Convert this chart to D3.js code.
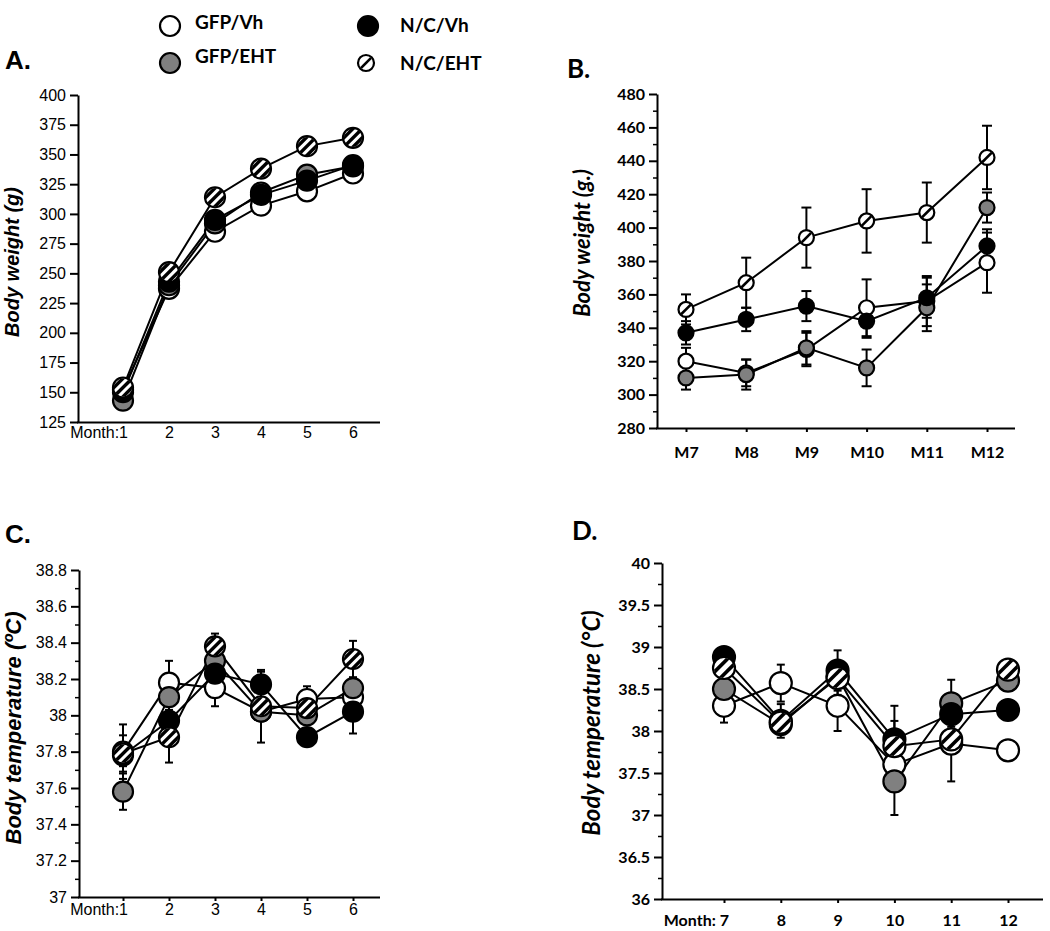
<!DOCTYPE html>
<html>
<head>
<meta charset="utf-8">
<script src="https://cdn.jsdelivr.net/npm/d3@7"></script>
<style>
body { margin: 0; background: #fff; }
</style>
</head>
<body>
<svg id="svg" width="1050" height="931"></svg>
<script>
var svg = d3.select("#svg"),
    defs = svg.append("defs");

var groups = ["GFP/Vh", "GFP/EHT", "N/C/Vh", "N/C/EHT"],
    fills  = ["#fff", "#808080", "#000", "hatch"];

// A. body weight, months 1-6
var monthsA = [1, 2, 3, 4, 5, 6];
var bwA_gfpVh  = [152, 237, 285, 307, 319, 334],
    bwA_gfpEht = [143, 240, 292, 318, 333, 340],
    bwA_ncVh   = [150, 243, 295, 316, 328, 341],
    bwA_ncEht  = [154, 251, 314, 338, 357, 364];
var ticksA = [125, 150, 175, 200, 225, 250, 275, 300, 325, 350, 375, 400];

// B. body weight, months 7-12
var monthsB = ["M7", "M8", "M9", "M10", "M11", "M12"];
var bwB_gfpVh  = [320, 313, 327, 352, 356, 379],
    bwB_gfpEht = [310, 312, 328, 316, 352, 412],
    bwB_ncVh   = [337, 345, 353, 344, 358, 389],
    bwB_ncEht  = [351, 367, 394, 404, 409, 442];
var seB_gfpVh  = [8, 8, 10, 17, 15, 18],
    seB_gfpEht = [7, 9, 10, 11, 14, 9],
    seB_ncVh   = [7, 7, 9, 10, 12, 10],
    seB_ncEht  = [9, 15, 18, 19, 18, 19];
var ticksB = [280, 300, 320, 340, 360, 380, 400, 420, 440, 460, 480];

// C. body temperature, months 1-6
var monthsC = [1, 2, 3, 4, 5, 6];
var btC_gfpVh  = [37.80, 38.18, 38.15, 38.02, 38.09, 38.10],
    btC_gfpEht = [37.58, 38.10, 38.30, 38.02, 38.00, 38.15],
    btC_ncVh   = [37.78, 37.97, 38.23, 38.17, 37.88, 38.02],
    btC_ncEht  = [37.79, 37.88, 38.38, 38.05, 38.04, 38.31];
var seC_gfpVh  = [0.15, 0.12, 0.10, 0.05, 0.07, 0.05],
    seC_gfpEht = [0.10, 0.07, 0.05, 0.05, 0.05, 0.03],
    seC_ncVh   = [0.06, 0.08, 0.06, 0.07, 0.04, 0.12],
    seC_ncEht  = [0.10, 0.14, 0.07, 0.20, 0.08, 0.10];
var ticksC = [37, 37.2, 37.4, 37.6, 37.8, 38, 38.2, 38.4, 38.6, 38.8];

// D. body temperature, months 7-12
var monthsD = [7, 8, 9, 10, 11, 12];
var btD_gfpVh  = [38.30, 38.57, 38.30, 37.60, 37.85, 37.77],
    btD_gfpEht = [38.50, 38.08, 38.65, 37.40, 38.33, 38.60],
    btD_ncVh   = [38.88, 38.12, 38.72, 37.90, 38.20, 38.25],
    btD_ncEht  = [38.75, 38.10, 38.63, 37.82, 37.90, 38.73];
var seD_gfpVh  = [0.20, 0.22, 0.30, 0.15, 0.45, 0.05],
    seD_gfpEht = [0.10, 0.10, 0.10, 0.40, 0.28, 0.05],
    seD_ncVh   = [0.10, 0.20, 0.24, 0.40, 0.20, 0.05],
    seD_ncEht  = [0.10, 0.10, 0.20, 0.30, 0.10, 0.05];
var ticksD = [36, 36.5, 37, 37.5, 38, 38.5, 39, 39.5, 40];

var ARIAL = '"Liberation Sans", Arial, sans-serif',
    CALI  = 'Lato, "Open Sans", sans-serif';

var panels = [
  {id:"A", font:ARIAL, bold:false, months:monthsA, xr:[123,353], ax:78, xEnd:380,
   yd:[125,400], yr:[422,95], ticks:ticksA, minor:null, xTick:0, xLabY:16, first:"Month:",
   series:[bwA_gfpVh, bwA_gfpEht, bwA_ncVh, bwA_ncEht], se:null,
   r:10, hatch:{offs:[-6.5,0,6.5], w:3.4}, cap:4,
   title:"Body weight (g)", tx:19, ty:262, ts:20, lab:[5,69]},
  {id:"B", font:CALI, bold:true, months:monthsB, xr:[686,987], ax:657, xEnd:1015,
   yd:[280,480], yr:[428,94], ticks:ticksB, minor:d3.range(290,480,20), xTick:4, xLabY:30, first:null,
   series:[bwB_gfpVh, bwB_gfpEht, bwB_ncVh, bwB_ncEht], se:[seB_gfpVh, seB_gfpEht, seB_ncVh, seB_ncEht],
   r:7.5, hatch:{offs:[0], w:2.6}, cap:5,
   title:"Body weight (g.)", tx:590, ty:243, ts:22, lab:[567,78]},
  {id:"C", font:ARIAL, bold:false, months:monthsC, xr:[123,353], ax:79, xEnd:380,
   yd:[37,38.8], yr:[897,570], ticks:ticksC, minor:d3.range(37.1,38.8,0.2), xTick:4, xLabY:18, first:"Month:",
   series:[btC_gfpVh, btC_gfpEht, btC_ncVh, btC_ncEht], se:[seC_gfpVh, seC_gfpEht, seC_ncVh, seC_ncEht],
   r:10, hatch:{offs:[-6.5,0,6.5], w:3.4}, cap:4,
   title:"Body temperature (\u00baC)", tx:21, ty:728, ts:22, lab:[5,543]},
  {id:"D", font:CALI, bold:true, months:monthsD, xr:[724,1008], ax:662, xEnd:1043,
   yd:[36,40], yr:[899,563], ticks:ticksD, minor:d3.range(36.25,40,0.5), xTick:4, xLabY:27, first:"Month: ",
   series:[btD_gfpVh, btD_gfpEht, btD_ncVh, btD_ncEht], se:[seD_gfpVh, seD_gfpEht, seD_ncVh, seD_ncEht],
   r:11, hatch:{offs:[-4,4.5], w:3.6}, cap:4,
   title:"Body temperature (\u00b0C)", tx:600, ty:723, ts:24, lab:[572,540]}
];

function marker(g, fill, r, hatch, clipId) {
  g.append("circle").attr("r", r).attr("fill", fill === "hatch" ? "#fff" : fill);
  if (fill === "hatch") {
    g.append("g").attr("clip-path", "url(#" + clipId + ")")
      .selectAll("line").data(hatch.offs).enter().append("line")
      .attr("x1", o => -r*1.5 + o/Math.SQRT2).attr("y1", o => r*1.5 + o/Math.SQRT2)
      .attr("x2", o =>  r*1.5 + o/Math.SQRT2).attr("y2", o => -r*1.5 + o/Math.SQRT2)
      .attr("stroke", "#000").attr("stroke-width", hatch.w);
  }
  g.append("circle").attr("r", r).attr("fill", "none").attr("stroke", "#000").attr("stroke-width", 2.2);
}

function fmt(d) { return typeof d === "number" ? String(+d.toFixed(1)) : d; }

panels.forEach(function(p) {
  var g = svg.append("g");
  var x = d3.scalePoint().domain(p.months).range(p.xr),
      y = d3.scaleLinear().domain(p.yd).range(p.yr);

  defs.append("clipPath").attr("id", "clip" + p.id)
    .append("circle").attr("r", p.r - 0.8);

  // y axis
  var ya = g.append("g").attr("transform", "translate(" + p.ax + ",0)")
    .call(d3.axisLeft(y).tickValues(p.ticks).tickSize(8).tickSizeOuter(0).tickPadding(4).tickFormat(fmt));
  ya.selectAll("path,line").attr("stroke-width", 2);
  ya.selectAll("text").attr("font-family", p.font).attr("font-size", 16)
    .attr("font-weight", p.bold ? "bold" : "normal").attr("fill", "#000");
  if (p.minor) {
    var ym = g.append("g").attr("transform", "translate(" + p.ax + ",0)")
      .call(d3.axisLeft(y).tickValues(p.minor).tickSize(4).tickFormat(""));
    ym.select(".domain").remove();
    ym.selectAll("line").attr("stroke-width", 1.5);
  }

  // x axis
  var xa = g.append("g").attr("transform", "translate(0," + p.yr[0] + ")")
    .call(d3.axisBottom(x).tickSize(p.xTick).tickFormat(fmt));
  xa.select(".domain").remove();
  xa.selectAll("line").attr("stroke-width", 2);
  xa.selectAll("text").attr("font-family", p.font).attr("font-size", 16)
    .attr("font-weight", p.bold ? "bold" : "normal").attr("fill", "#000")
    .attr("dy", null).attr("y", p.xLabY);
  if (p.first) {
    xa.select(".tick text").text(p.first + fmt(p.months[0]))
      .attr("text-anchor", "end").attr("x", 4.5);
  }
  g.append("line").attr("x1", p.ax - 1).attr("x2", p.xEnd)
    .attr("y1", p.yr[0] + 0.5).attr("y2", p.yr[0] + 0.5)
    .attr("stroke", "#000").attr("stroke-width", 2);

  // axis title
  g.append("text").attr("transform", "translate(" + p.tx + "," + p.ty + ") rotate(-90)")
    .attr("text-anchor", "middle").attr("font-family", p.font).attr("font-size", p.ts)
    .attr("font-weight", "bold").attr("font-style", "italic").text(p.title);

  // panel letter
  g.append("text").attr("x", p.lab[0]).attr("y", p.lab[1])
    .attr("font-family", p.font).attr("font-weight", "bold").attr("font-size", 26)
    .text(p.id + ".");

  var line = d3.line().x((d, i) => x(p.months[i])).y(d => y(d));
  g.append("g").selectAll("path").data(p.series).enter().append("path")
    .attr("d", line).attr("fill", "none").attr("stroke", "#000").attr("stroke-width", 2);

  if (p.se) {
    p.series.forEach(function(s, k) {
      var eb = g.append("g").selectAll("g").data(s).enter().append("g")
        .attr("transform", (d, i) => "translate(" + x(p.months[i]) + ",0)");
      eb.append("line").attr("y1", (d, i) => y(d - p.se[k][i])).attr("y2", (d, i) => y(d + p.se[k][i]))
        .attr("stroke", "#000").attr("stroke-width", 2);
      eb.append("line").attr("x1", -p.cap).attr("x2", p.cap)
        .attr("y1", (d, i) => y(d + p.se[k][i])).attr("y2", (d, i) => y(d + p.se[k][i]))
        .attr("stroke", "#000").attr("stroke-width", 2);
      eb.append("line").attr("x1", -p.cap).attr("x2", p.cap)
        .attr("y1", (d, i) => y(d - p.se[k][i])).attr("y2", (d, i) => y(d - p.se[k][i]))
        .attr("stroke", "#000").attr("stroke-width", 2);
    });
  }

  p.series.forEach(function(s, k) {
    g.append("g").selectAll("g").data(s).enter().append("g")
      .attr("transform", (d, i) => "translate(" + x(p.months[i]) + "," + y(d) + ")")
      .each(function() { marker(d3.select(this), fills[k], p.r, p.hatch, "clip" + p.id); });
  });
});

// legend
defs.append("clipPath").attr("id", "clipL").append("circle").attr("r", 7.2);
var legPos = [[170, 26, 10], [170, 63, 10], [368, 26, 10], [366, 63, 8]],
    legTxt = [[195, 29], [195, 63], [400, 32], [400, 70]];
var leg = svg.append("g").selectAll("g").data(groups).enter().append("g");
leg.append("g").attr("transform", (d, i) => "translate(" + legPos[i][0] + "," + legPos[i][1] + ")")
  .each(function(d, i) { marker(d3.select(this), fills[i], legPos[i][2], {offs:[0], w:2.6}, "clipL"); });
leg.append("text").attr("x", (d, i) => legTxt[i][0]).attr("y", (d, i) => legTxt[i][1])
  .attr("font-family", CALI).attr("font-weight", "bold").attr("font-size", 19)
  .text(d => d);
</script>
</body>
</html>
